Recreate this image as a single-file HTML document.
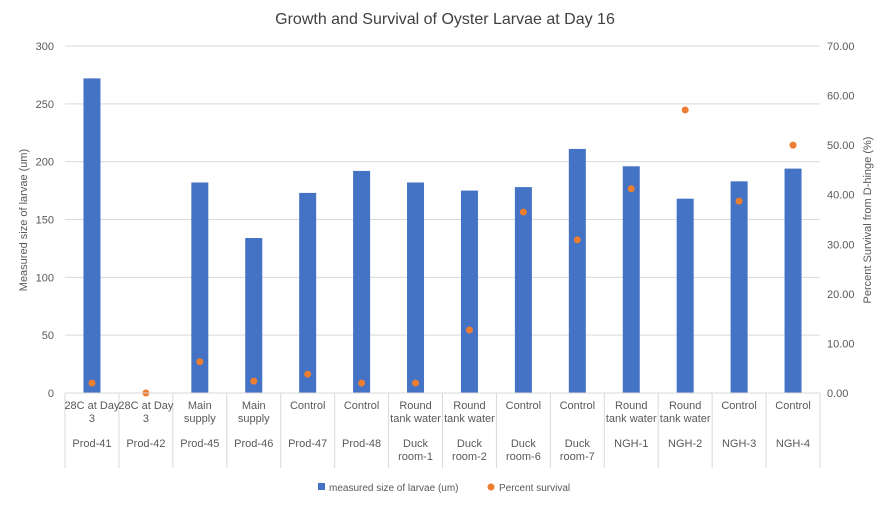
<!DOCTYPE html>
<html><head><meta charset="utf-8"><style>
body{margin:0;background:#fff;font-family:"Liberation Sans",sans-serif}
svg text{font-family:"Liberation Sans",sans-serif}
</style></head><body>
<svg id="c" width="890" height="504" xmlns="http://www.w3.org/2000/svg">
<rect width="890" height="504" fill="#fff"/>
<text x="445" y="24" text-anchor="middle" font-size="16" fill="#404040">Growth and Survival of Oyster Larvae at Day 16</text>
<g id="g"></g>
<text transform="translate(27,220) rotate(-90)" text-anchor="middle" font-size="11" fill="#595959">Measured size of larvae (um)</text>
<text transform="translate(871,220) rotate(-90)" text-anchor="middle" font-size="11" fill="#595959">Percent Survival from D-hinge (%)</text>
<g>
<rect x="318" y="483" width="7" height="7" fill="#4472c4"/>
<text x="329" y="491" font-size="10" fill="#595959">measured size of larvae (um)</text>
<circle cx="491" cy="487" r="3.5" fill="#ed7d31"/>
<text x="499" y="491" font-size="10" fill="#595959">Percent survival</text>
</g>
</svg>
<script>
const cat1=[["28C at Day","3"],["28C at Day","3"],["Main","supply"],["Main","supply"],["Control"],["Control"],["Round","tank water"],["Round","tank water"],["Control"],["Control"],["Round","tank water"],["Round","tank water"],["Control"],["Control"]];
const cat2=[["Prod-41"],["Prod-42"],["Prod-45"],["Prod-46"],["Prod-47"],["Prod-48"],["Duck","room-1"],["Duck","room-2"],["Duck","room-6"],["Duck","room-7"],["NGH-1"],["NGH-2"],["NGH-3"],["NGH-4"]];
const sizes=[272,0,182,134,173,192,182,175,178,211,196,168,183,194];
const survival=[2.0,0.0,6.3,2.4,3.8,2.0,2.0,12.7,36.5,30.9,41.2,57.1,38.7,50.0];
const leftTicks=[0,50,100,150,200,250,300];
const rightTicks=[0,10,20,30,40,50,60,70];
const NS="http://www.w3.org/2000/svg",g=document.getElementById('g');
const X0=65,X1=820,Y0=393,Y1=46,n=sizes.length,cw=(X1-X0)/n;
const yL=v=>Y0-(v/300)*(Y0-Y1), yR=v=>Y0-(v/70)*(Y0-Y1), xc=i=>X0+cw*(i+0.5);
function mk(t,a,txt){const e=document.createElementNS(NS,t);for(const k in a)e.setAttribute(k,a[k]);if(txt!==undefined)e.textContent=txt;g.appendChild(e);return e;}
leftTicks.forEach(v=>{
 const l=mk('line',{x1:X0,x2:X1,y1:yL(v),y2:yL(v),stroke:'#d9d9d9'});
 
 
 const t=mk('text',{x:54,y:yL(v)+4,'text-anchor':'end','font-size':11,fill:'#595959'},v);
 
 
});
rightTicks.forEach(v=>{
 const t=mk('text',{x:827,y:yR(v)+4,'font-size':11,fill:'#595959'},v.toFixed(2));
 
 
});
for(let i=0;i<=n;i++){
 const l=mk('line',{x1:X0+cw*i,x2:X0+cw*i,y1:Y0,y2:468,stroke:'#d9d9d9'});
 
 
}
sizes.forEach((v,i)=>{
 const b=mk('rect',{x:xc(i)-8.5,y:yL(v),width:17,height:Y0-yL(v),fill:'#4472c4'});
 
 
});
survival.forEach((v,i)=>{
 const p=mk('circle',{cx:xc(i),cy:yR(v),r:3.5,fill:'#ed7d31'});
 
 
});
cat1.forEach((ls,i)=>ls.forEach((s,j)=>{
 const t=mk('text',{x:xc(i),y:409+j*13,'text-anchor':'middle','font-size':11,fill:'#595959'},s);
 
 
}));
cat2.forEach((ls,i)=>ls.forEach((s,j)=>{
 const t=mk('text',{x:xc(i),y:447+j*13,'text-anchor':'middle','font-size':11,fill:'#595959'},s);
 
 
}));
const ax=mk('line',{x1:X0,x2:X1,y1:Y0,y2:Y0,stroke:'#d9d9d9'});


</script>
</body></html>
